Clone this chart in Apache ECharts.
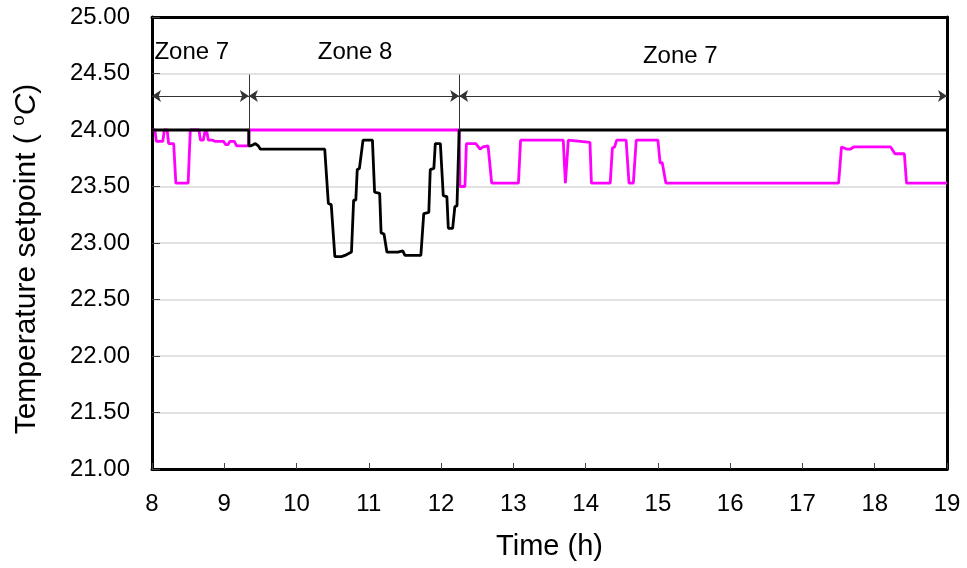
<!DOCTYPE html>
<html>
<head>
<meta charset="utf-8">
<script src="https://cdn.jsdelivr.net/npm/echarts@6/dist/echarts.min.js"></script>
<style>
  html, body { margin: 0; padding: 0; background: #fff; }
  #chart { width: 967px; height: 568px; }
</style>
</head>
<body>
<div id="chart"></div>
<script>
// Setpoint traces (time in hours, setpoint in °C)
const magentaHours = [8.00, 8.04, 8.06, 8.15, 8.17, 8.21, 8.23, 8.30, 8.33, 8.50, 8.53, 8.65, 8.67, 8.71, 8.73, 8.76, 8.78, 8.84, 8.87, 8.99, 9.02, 9.05, 9.08, 9.14, 9.17, 9.34, 9.34,
  12.25, 12.26, 12.33, 12.35, 12.48, 12.54, 12.58, 12.65, 12.70, 13.07, 13.10, 13.69, 13.72, 13.76, 14.06, 14.08, 14.34, 14.37, 14.40, 14.43, 14.56, 14.60, 14.66, 14.70, 15.00, 15.03, 15.06, 15.11, 17.50, 17.54, 17.62, 17.66, 17.71, 18.22, 18.28, 18.41, 18.44, 19.00];
const magentaValues = [24.00, 24.00, 23.90, 23.90, 24.00, 24.00, 23.88, 23.88, 23.53, 23.53, 24.00, 24.00, 23.91, 23.91, 23.98, 23.98, 23.91, 23.91, 23.90, 23.90, 23.87, 23.87, 23.90, 23.90, 23.86, 23.86, 24.00,
  24.00, 23.50, 23.50, 23.88, 23.88, 23.83, 23.85, 23.86, 23.53, 23.53, 23.91, 23.91, 23.53, 23.91, 23.89, 23.53, 23.53, 23.84, 23.85, 23.91, 23.91, 23.53, 23.53, 23.91, 23.91, 23.71, 23.71, 23.53, 23.53, 23.85, 23.83, 23.83, 23.85, 23.85, 23.79, 23.79, 23.53, 23.53];

const blackHours = [8.00, 9.34, 9.34, 9.37, 9.40, 9.43, 9.47, 9.50, 10.39, 10.44, 10.48, 10.53, 10.62, 10.67, 10.76, 10.79, 10.82, 10.84, 10.87, 10.92, 11.05, 11.08, 11.15, 11.17, 11.21, 11.25, 11.40, 11.47, 11.50, 11.72, 11.76, 11.83, 11.85, 11.90, 11.92, 11.99, 12.03, 12.08, 12.10, 12.16, 12.19, 12.22, 12.25, 19.00];
const blackValues = [24.00, 24.00, 23.86, 23.86, 23.87, 23.88, 23.86, 23.83, 23.83, 23.35, 23.34, 22.88, 22.88, 22.89, 22.92, 23.38, 23.38, 23.65, 23.66, 23.91, 23.91, 23.45, 23.44, 23.09, 23.08, 22.92, 22.92, 22.93, 22.89, 22.89, 23.26, 23.27, 23.65, 23.66, 23.88, 23.88, 23.42, 23.41, 23.13, 23.13, 23.32, 23.33, 24.00, 24.00];

// Control zones along the time axis
const zoneBounds = [8, 9.34, 12.25, 19];
const zoneNames = ['Zone 7', 'Zone 8', 'Zone 7'];
const zoneLabelHours = [8.55, 10.81, 15.31];
const zoneLabelValues = [24.69, 24.69, 24.65];

const pairs = (xs, ys) => xs.map((x, i) => [x, ys[i]]);

const FONT = 'Liberation Sans, Arial, sans-serif';
const ARROW_LEVEL = 24.30;
const SEPARATOR_TOP = 24.49;

const arrowLines = [];
for (let i = 0; i < zoneBounds.length - 1; i++) {
  arrowLines.push([{ coord: [zoneBounds[i], ARROW_LEVEL] }, { coord: [zoneBounds[i + 1], ARROW_LEVEL] }]);
}
const separatorLines = zoneBounds.slice(1, -1).map(b => [
  { coord: [b, 24.0], symbol: 'none' },
  { coord: [b, SEPARATOR_TOP], symbol: 'none' }
]);

// plain frame lines for the top and right edges of the plot box
const frameAxis = {
  show: true, type: 'value',
  axisLine: { show: true, lineStyle: { color: '#000', width: 3 } },
  axisTick: { show: false }, axisLabel: { show: false }, splitLine: { show: false }
};

const chart = echarts.init(document.getElementById('chart'));
chart.setOption({
  animation: false,
  backgroundColor: '#fff',
  grid: { left: 152, right: 20, top: 17, bottom: 99 },
  xAxis: [{
    type: 'value', min: 8, max: 19, interval: 1,
    name: 'Time (h)', nameLocation: 'middle', nameGap: 63,
    nameTextStyle: { fontFamily: FONT, fontSize: 29, color: '#000' },
    axisLine: { show: true, lineStyle: { color: '#000', width: 3 } },
    axisTick: { show: true, inside: true, length: 6, lineStyle: { color: '#444', width: 1 } },
    axisLabel: { fontFamily: FONT, fontSize: 24, color: '#000', margin: 23 },
    splitLine: { show: false }
  }, Object.assign({}, frameAxis, { position: 'top', min: 8, max: 19 })],
  yAxis: [{
    type: 'value', min: 21, max: 25, interval: 0.5,
    name: 'Temperature setpoint ( {sup|o}{it|C})',
    nameLocation: 'middle', nameGap: 108, nameRotate: 90,
    nameTextStyle: {
      fontFamily: FONT, fontSize: 30, color: '#000', padding: [0, 32, 0, 0],
      rich: {
        sup: { fontFamily: FONT, fontSize: 19, color: '#000', verticalAlign: 'top', lineHeight: 35 },
        it: { fontFamily: FONT, fontSize: 30, color: '#000', fontStyle: 'italic' }
      }
    },
    axisLine: { show: true, lineStyle: { color: '#000', width: 3 } },
    axisTick: { show: true, inside: true, length: 8, lineStyle: { color: '#444', width: 1 } },
    axisLabel: { fontFamily: FONT, fontSize: 24, color: '#000', margin: 22, formatter: v => v.toFixed(2) },
    splitLine: { show: true, lineStyle: { color: '#d9d9d9', width: 1.5 } }
  }, Object.assign({}, frameAxis, { position: 'right', min: 21, max: 25 })],
  series: [
    {
      type: 'line', data: pairs(magentaHours, magentaValues),
      showSymbol: false, smooth: false, z: 3,
      lineStyle: { color: '#ff00ff', width: 2.8 }
    },
    {
      type: 'line', data: pairs(blackHours, blackValues),
      showSymbol: false, smooth: false, z: 4,
      lineStyle: { color: '#000', width: 2.8 },
      markLine: {
        silent: true, animation: false,
        symbol: ['arrow', 'arrow'], symbolSize: 9,
        label: { show: false },
        lineStyle: { color: '#333', width: 1, type: 'solid' },
        data: arrowLines.concat(separatorLines)
      }
    },
    {
      type: 'scatter', symbolSize: 0, silent: true, z: 5,
      itemStyle: { opacity: 1, color: '#000' },
      data: zoneLabelHours.map((h, i) => ({ value: [h, zoneLabelValues[i]], name: zoneNames[i] })),
      label: {
        show: true, position: 'inside', formatter: p => p.name, opacity: 1,
        fontFamily: FONT, fontSize: 24, color: '#000'
      }
    }
  ]
});
</script>
</body>
</html>
